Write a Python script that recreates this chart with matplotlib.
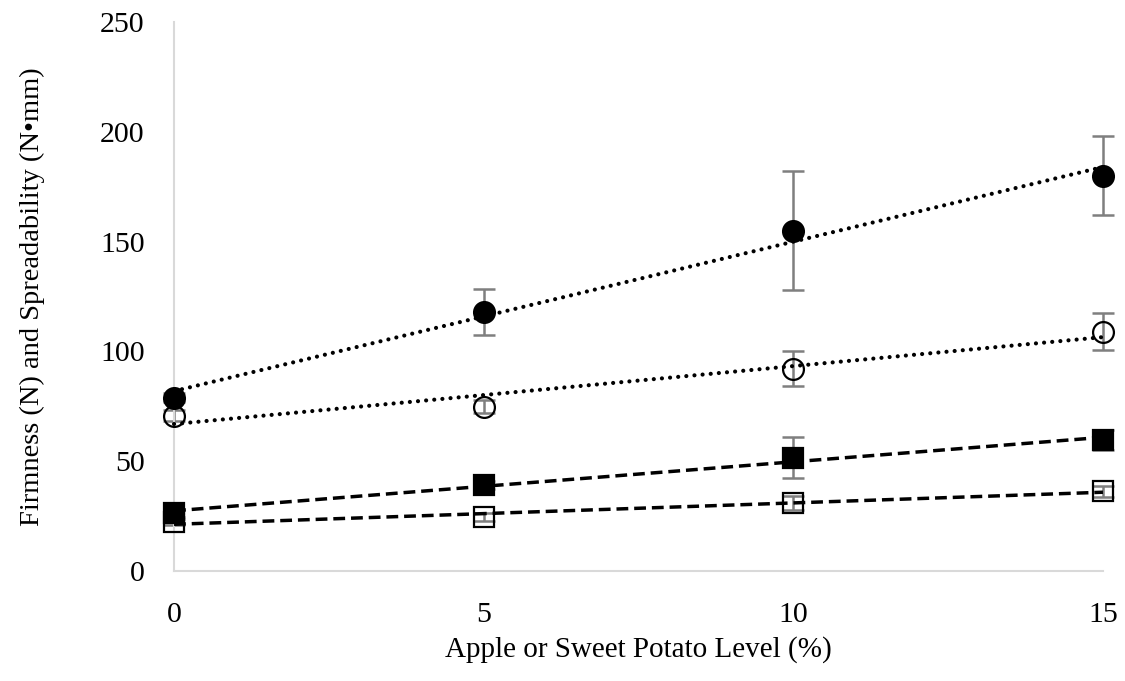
import numpy as np
import matplotlib.pyplot as plt

plt.rcParams['font.family'] = ['Liberation Serif', 'DejaVu Serif']

level = [0, 5, 10, 15]

# firmness / spreadability means and standard deviations
filled_circle = [79, 117.8, 155, 180]
filled_circle_sd = [2, 10.5, 27, 18]
open_circle = [70.8, 74.9, 92.2, 109]
open_circle_sd = [2.5, 3, 8, 8.5]
filled_square = [26.4, 39.2, 51.5, 59.5]
filled_square_sd = [2, 2, 9.3, 4.5]
open_square = [22.3, 24.6, 31, 36.4]
open_square_sd = [1.5, 2, 3, 2.5]

series = [
    (filled_circle, filled_circle_sd, 'o', 'black', 'dot'),
    (open_circle, open_circle_sd, 'o', 'none', 'dot'),
    (filled_square, filled_square_sd, 's', 'black', 'dash'),
    (open_square, open_square_sd, 's', 'none', 'dash'),
]

fig = plt.figure(figsize=(11.25, 6.81), dpi=100)
ax = fig.add_axes([0.1547, 0.1615, 0.8257, 0.8062])

xs = np.array([0, 15])
for y, sd, m, fc, ls in series:
    eb = ax.errorbar(level, y, yerr=sd, fmt='none', ecolor='#7f7f7f',
                     elinewidth=1.8, capsize=8, capthick=1.8, zorder=2)
    for art in eb.get_children():
        art.set_clip_on(False)
    ax.plot(level, y, linestyle='none', marker=m, markersize=15 if m == 'o' else 14,
            markerfacecolor=fc, markeredgecolor='black', markeredgewidth=1.6,
            zorder=3, clip_on=False)
    k, b = np.polyfit(level, y, 1)
    if ls == 'dot':
        ax.plot(xs, k * xs + b, color='black', linewidth=3.0,
                linestyle=(0, (0.01, 1.95)), dash_capstyle='round', zorder=4, clip_on=False)
    else:
        ax.plot(xs, k * xs + b, color='black', linewidth=2.5,
                linestyle=(0, (3.4, 1.7)), zorder=4, clip_on=False)

ax.set_xlim(0, 15)
ax.set_ylim(0, 250)
ax.set_xticks([0, 5, 10, 15])
ax.set_yticks(range(0, 251, 50))
ax.tick_params(axis='both', length=0, labelsize=21.5)
ax.tick_params(axis='y', pad=21)
ax.tick_params(axis='x', pad=22)
for s in ['top', 'right']:
    ax.spines[s].set_visible(False)
for s in ['left', 'bottom']:
    ax.spines[s].set_color('#d9d9d9')
    ax.spines[s].set_linewidth(1.5)

ax.set_xlabel('Apple or Sweet Potato Level (%)', fontsize=21, labelpad=6)
ax.set_ylabel('Firmness (N) and Spreadability (N•mm)', fontsize=20.5, labelpad=40)

fig.savefig('out.png', dpi=100)
